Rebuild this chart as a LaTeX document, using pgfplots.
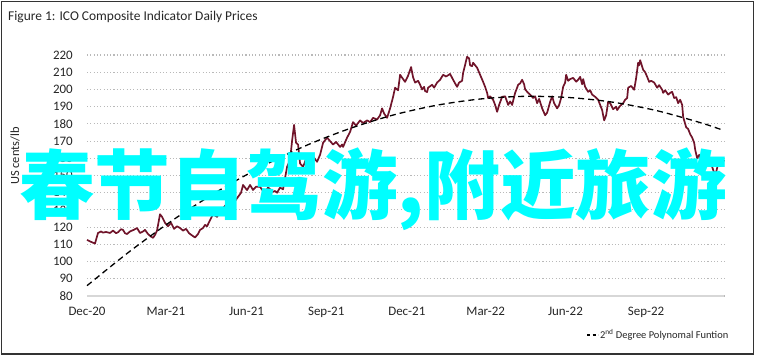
\documentclass[border=0pt]{standalone}
\usepackage{fontspec}
\setmainfont{Carlito}
\newfontfamily\cjk{Noto Sans CJK SC}
\usepackage{pgfplots}
\usepackage{pgfplotstable}
\pgfplotsset{compat=1.18}
\definecolor{pricered}{RGB}{112,20,42}
\definecolor{gridgray}{RGB}{185,185,185}
\definecolor{axisgray}{RGB}{215,215,215}
\definecolor{brightcyan}{RGB}{0,255,255}

% price series: column px = horizontal position, val = US cents/lb
\pgfplotstableread{
px val
87 112.6
89 112
92 111.2
95 110.5
98 116.6
101 117.5
103 116.8
106 117.2
110 116.6
113 118
116 116.5
118 117
121 118.8
123 118.4
125 116.5
127 116
130 117.5
134 118.5
137 119.5
140 116.6
143 117.5
145 118.4
148 116
151 114.5
153 113.8
155 115.5
157 118
160 127.5
162 126
165 122.5
168 120.5
171 122.5
174 119
177 120.5
180 119.5
183 118
186 119
189 116.5
192 115.2
195 114
198 116
200 118.4
203 119.5
205 121.3
207 120.5
210 124
213 127.5
217 126
220 129
223 131
226 133
230 134.6
233 133.5
236 136
238 137.6
241 140
243 144.5
245 143
247 141.5
250 144.5
253 141.6
256 143.5
260 143.4
263 141
265 140.5
268 143
271 141.5
273 140.5
275 141
277 140
280 143
283 142
287 155
290 159
292 170
294 179.4
296 169
298 168
300 157
303 155
305 158
307 162
310 160
313 161
317 158
320 162
323 169
327 172
330 170
333 168
336 169.5
340 166.6
342 168
343 166.6
347 172
350 175.3
353 181
356 179
360 182
363 180.5
367 182
370 181
373 183.5
377 182.5
380 185
382 189
384 186
387 183.5
390 189
393 195.7
395 201
398 199.5
400 208.5
403 206
405 204.4
408 208
411 213
413 207
415 204
418 205
420 202.7
422 200
424 201.5
425 199
427 198.5
428 201
432 202.7
434 201
437 204
440 205.6
443 208.5
446 207.5
450 209
453 205.6
455 203.5
457 201.5
459 204
462 205
463 209.6
465 214.3
467 219
469 218
470 214
472 213.5
473 215.5
477 212.6
480 208.5
483 204.4
485 201.5
487 198
488 195
490 196
493 194
495 191
497 187
499 191
502 195.7
505 196
507 192.8
508 191
510 193
512 191
515 198
517 201
518 202.7
520 203.5
522 205.6
524 203
525 200
528 198
530 197
533 195
535 196
537 192
539 194.5
542 189
545 185
547 186.5
550 192.8
552 196
554 192
557 189
559 191
561 195
563 201.5
565 204
566 208.5
568 205
570 206
573 206.7
576 204.5
578 205.6
580 207.3
582 203
583 206
585 201.5
588 198.6
590 199.5
592 197
595 195.7
598 194
600 191
602 188
604 182
606 185
608 192.8
610 192
613 188.5
616 190
617 188
620 190.5
623 192
625 194
627 195
628 201
631 202
634 199.8
636 206.7
638 215.5
639 214
640 217
643 211.4
645 210
647 207.3
649 204.4
651 205
654 204
657 201
659 202.5
662 199.8
663 198
665 199.5
668 197
670 198
672 198.6
674 195
676 195.5
678 192
680 194
682 191
683 184
686 178
688 177
690 174
692 172
694 169
695 165
697 160
699 162
701 159
703 160
706 156
708 158
710 157
712 155
714 151.5
716 152
718 157
720 155.5
722 157
724 159
}\pricedata

% 2nd degree polynomial trend, day since 1 Dec 2020
\pgfplotstableread{
day val
0 86.0
50 106.4
100 124.8
150 141.1
200 155.3
250 167.4
300 177.3
350 185.2
400 190.9
450 194.5
500 196.0
550 195.3
600 192.6
650 187.7
700 180.7
727 176.1
}\trenddata

\begin{document}
\begin{tikzpicture}
\begin{axis}[
  at={(87bp,60bp)}, anchor=south west,
  scale only axis, width=637bp, height=241bp,
  xmin=0, xmax=727, ymin=80, ymax=220,
  clip=false,
  ytick={80,90,...,220},
  xtick={0,90,182,273,365,455,546,638},
  xticklabels={Dec-20,Mar-21,Jun-21,Sep-21,Dec-21,Mar-22,Jun-22,Sep-22},
  axis x line*=bottom, axis y line*=left,
  y axis line style={draw=none},
  x axis line style={draw=axisgray, line width=1.2bp},
  major tick length=0pt, tick align=inside,
  ymajorgrids,
  major grid style={draw=gridgray, line width=1.1bp, dash pattern=on 1.1bp off 2.2bp},
  /pgf/number format/assume math mode=true,
  tick label style={font=\fontsize{13}{15}\selectfont, text=black!85},
  yticklabel style={anchor=east, inner sep=0, xshift=-14bp},
  xticklabel style={anchor=north, inner sep=0, yshift=-11bp},
  legend style={at={(axis description cs:1,0)}, anchor=east, xshift=6bp, yshift=-39bp,
    draw=none, fill=none, font=\fontsize{10.5}{12}\selectfont, text=black!85,
    inner sep=0pt, nodes={inner sep=1.5bp}},
  legend image code/.code={\draw[#1, line width=1.1bp, dash pattern=on 3bp off 2.5bp] (0,0) -- (11bp,0);},
]
\addplot[pricered, line width=1.7bp, line join=round, forget plot]
  table[x expr={(\thisrow{px}-87)*1.1416}, y=val] {\pricedata};
\addplot[black, line width=1.3bp, dash pattern=on 6bp off 4bp, smooth]
  table[x=day, y=val] {\trenddata};
\addlegendentry{2\textsuperscript{nd} Degree Polynomal Funtion}
\end{axis}
\begin{scope}[x=1bp,y=1bp]
\node[anchor=base west, font=\fontsize{13.5}{16}\selectfont, inner sep=0, text=black!85] at (8,336) {Figure 1: ICO Composite Indicator Daily Prices};
\node[rotate=90, font=\fontsize{12.5}{15}\selectfont, inner sep=0, text=black!85] at (15,200) {US cents/lb};
\node[anchor=west, inner sep=0, text=brightcyan] at (19,167) {\cjk\bfseries\fontsize{76}{80}\selectfont 春节自驾游,附近旅游};
\draw[line width=1.2bp, black!80] (1.5,2) rectangle (753.5,354.5);
\path (0,0) rectangle (762,356);
\end{scope}
\end{tikzpicture}
\end{document}
